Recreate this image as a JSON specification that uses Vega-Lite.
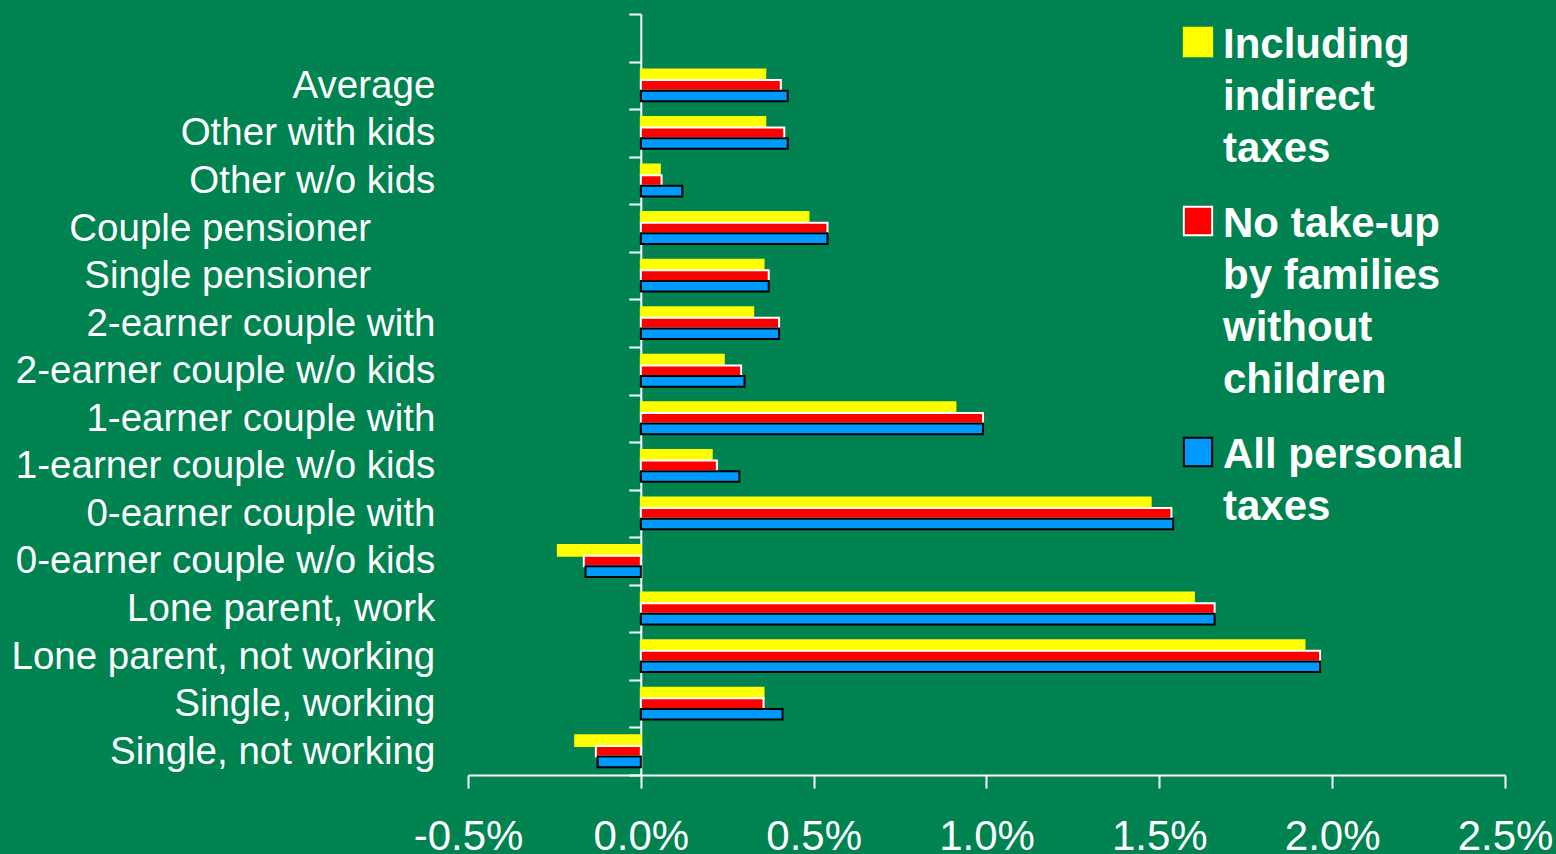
{
  "$schema": "https://vega.github.io/schema/vega-lite/v6.json",
  "width": 1037,
  "height": 761,
  "autosize": {"type": "none"},
  "padding": {"left": 468, "top": 14, "right": 51, "bottom": 79},
  "background": "#008350",
  "config": {"view": {"stroke": null}, "font": "Liberation Sans"},
  "data": {
    "values": [
      {"group": "Average", "series": "Including indirect taxes", "value": 0.0036},
      {"group": "Average", "series": "No take-up by families without children", "value": 0.00405},
      {"group": "Average", "series": "All personal taxes", "value": 0.00425},
      {"group": "Other with kids", "series": "Including indirect taxes", "value": 0.0036},
      {"group": "Other with kids", "series": "No take-up by families without children", "value": 0.00415},
      {"group": "Other with kids", "series": "All personal taxes", "value": 0.00425},
      {"group": "Other w/o kids", "series": "Including indirect taxes", "value": 0.00055},
      {"group": "Other w/o kids", "series": "No take-up by families without children", "value": 0.0006},
      {"group": "Other w/o kids", "series": "All personal taxes", "value": 0.0012},
      {"group": "Couple pensioner", "series": "Including indirect taxes", "value": 0.00485},
      {"group": "Couple pensioner", "series": "No take-up by families without children", "value": 0.0054},
      {"group": "Couple pensioner", "series": "All personal taxes", "value": 0.0054},
      {"group": "Single pensioner", "series": "Including indirect taxes", "value": 0.00355},
      {"group": "Single pensioner", "series": "No take-up by families without children", "value": 0.0037},
      {"group": "Single pensioner", "series": "All personal taxes", "value": 0.0037},
      {"group": "2-earner couple with", "series": "Including indirect taxes", "value": 0.00325},
      {"group": "2-earner couple with", "series": "No take-up by families without children", "value": 0.004},
      {"group": "2-earner couple with", "series": "All personal taxes", "value": 0.004},
      {"group": "2-earner couple w/o kids", "series": "Including indirect taxes", "value": 0.0024},
      {"group": "2-earner couple w/o kids", "series": "No take-up by families without children", "value": 0.0029},
      {"group": "2-earner couple w/o kids", "series": "All personal taxes", "value": 0.003},
      {"group": "1-earner couple with", "series": "Including indirect taxes", "value": 0.0091},
      {"group": "1-earner couple with", "series": "No take-up by families without children", "value": 0.0099},
      {"group": "1-earner couple with", "series": "All personal taxes", "value": 0.0099},
      {"group": "1-earner couple w/o kids", "series": "Including indirect taxes", "value": 0.00205},
      {"group": "1-earner couple w/o kids", "series": "No take-up by families without children", "value": 0.0022},
      {"group": "1-earner couple w/o kids", "series": "All personal taxes", "value": 0.00285},
      {"group": "0-earner couple with", "series": "Including indirect taxes", "value": 0.01475},
      {"group": "0-earner couple with", "series": "No take-up by families without children", "value": 0.01535},
      {"group": "0-earner couple with", "series": "All personal taxes", "value": 0.0154},
      {"group": "0-earner couple w/o kids", "series": "Including indirect taxes", "value": -0.0024},
      {"group": "0-earner couple w/o kids", "series": "No take-up by families without children", "value": -0.00165},
      {"group": "0-earner couple w/o kids", "series": "All personal taxes", "value": -0.0016},
      {"group": "Lone parent, work", "series": "Including indirect taxes", "value": 0.016},
      {"group": "Lone parent, work", "series": "No take-up by families without children", "value": 0.0166},
      {"group": "Lone parent, work", "series": "All personal taxes", "value": 0.0166},
      {"group": "Lone parent, not working", "series": "Including indirect taxes", "value": 0.0192},
      {"group": "Lone parent, not working", "series": "No take-up by families without children", "value": 0.01965},
      {"group": "Lone parent, not working", "series": "All personal taxes", "value": 0.01965},
      {"group": "Single, working", "series": "Including indirect taxes", "value": 0.00355},
      {"group": "Single, working", "series": "No take-up by families without children", "value": 0.00355},
      {"group": "Single, working", "series": "All personal taxes", "value": 0.0041},
      {"group": "Single, not working", "series": "Including indirect taxes", "value": -0.0019},
      {"group": "Single, not working", "series": "No take-up by families without children", "value": -0.0013},
      {"group": "Single, not working", "series": "All personal taxes", "value": -0.00125}
    ]
  },
  "mark": {"type": "bar", "strokeWidth": 2},
  "encoding": {
    "y": {
      "field": "group",
      "type": "nominal",
      "scale": {
        "domain": [" ", "Average", "Other with kids", "Other w/o kids", "Couple pensioner", "Single pensioner", "2-earner couple with", "2-earner couple w/o kids", "1-earner couple with", "1-earner couple w/o kids", "0-earner couple with", "0-earner couple w/o kids", "Lone parent, work", "Lone parent, not working", "Single, working", "Single, not working"],
        "paddingInner": 0,
        "paddingOuter": 0
      },
      "axis": {
        "title": null,
        "offset": -172.8,
        "domainColor": "white",
        "domainWidth": 2,
        "tickColor": "white",
        "tickWidth": 2,
        "tickSize": 12,
        "tickBand": "extent",
        "labelColor": "white",
        "labelFontSize": 38.5,
        "labelPadding": 194,
        "labelLimit": 0,
        "grid": false,
        "labelExpr": "(datum.value == 'Couple pensioner' || datum.value == 'Single pensioner') ? datum.label + '\u00a0\u00a0\u00a0\u00a0\u00a0\u00a0\u200b' : datum.label"
      }
    },
    "yOffset": {
      "field": "series",
      "type": "nominal",
      "scale": {"domain": ["Including indirect taxes", "No take-up by families without children", "All personal taxes"], "paddingInner": 0, "paddingOuter": 0.737}
    },
    "x": {
      "field": "value",
      "type": "quantitative",
      "scale": {"domain": [-0.005, 0.025], "nice": false, "zero": false},
      "axis": {
        "title": null,
        "values": [-0.005, 0, 0.005, 0.01, 0.015, 0.02, 0.025],
        "format": ".1%",
        "labelExpr": "replace(datum.label, '\u2212', '-')",
        "domainColor": "white",
        "domainWidth": 2,
        "tickColor": "white",
        "tickWidth": 2,
        "tickSize": 13,
        "labelColor": "white",
        "labelFontSize": 42,
        "labelPadding": 28,
        "labelFlush": false,
        "labelOverlap": false,
        "grid": false
      }
    },
    "color": {
      "field": "series",
      "type": "nominal",
      "scale": {
        "domain": ["Including indirect taxes", "No take-up by families without children", "All personal taxes"],
        "range": ["#FFFF00", "#FF0000", "#0099FF"]
      },
      "legend": {
        "title": null,
        "orient": "none",
        "legendX": 709,
        "legendY": 7,
        "padding": 0,
        "symbolType": "square",
        "symbolSize": 800,
        "symbolStrokeWidth": 2,
        "symbolOpacity": 1,
        "labelColor": "white",
        "labelFontSize": 42,
        "labelFontWeight": "bold",
        "labelLimit": 0,
        "labelOffset": 4,
        "labelBaseline": "top",
        "rowPadding": 30,
        "labelExpr": "datum.label == 'Including indirect taxes' ? ['Including', 'indirect', 'taxes'] : datum.label == 'All personal taxes' ? ['All personal', 'taxes'] : ['No take-up', 'by families', 'without', 'children']",
        "encode": {"labels": {"update": {"dy": {"value": -17}, "lineHeight": {"value": 52}}}}
      }
    },
    "stroke": {
      "field": "series",
      "type": "nominal",
      "scale": {
        "domain": ["Including indirect taxes", "No take-up by families without children", "All personal taxes"],
        "range": ["#FFFF00", "#FFFFFF", "#000000"]
      },
      "legend": {
        "title": null,
        "orient": "none",
        "legendX": 709,
        "legendY": 7,
        "padding": 0,
        "symbolType": "square",
        "symbolSize": 800,
        "symbolStrokeWidth": 2,
        "symbolOpacity": 1,
        "labelColor": "white",
        "labelFontSize": 42,
        "labelFontWeight": "bold",
        "labelLimit": 0,
        "labelOffset": 4,
        "labelBaseline": "top",
        "rowPadding": 30,
        "labelExpr": "datum.label == 'Including indirect taxes' ? ['Including', 'indirect', 'taxes'] : datum.label == 'All personal taxes' ? ['All personal', 'taxes'] : ['No take-up', 'by families', 'without', 'children']",
        "encode": {"labels": {"update": {"dy": {"value": -17}, "lineHeight": {"value": 52}}}}
      }
    }
  }
}
